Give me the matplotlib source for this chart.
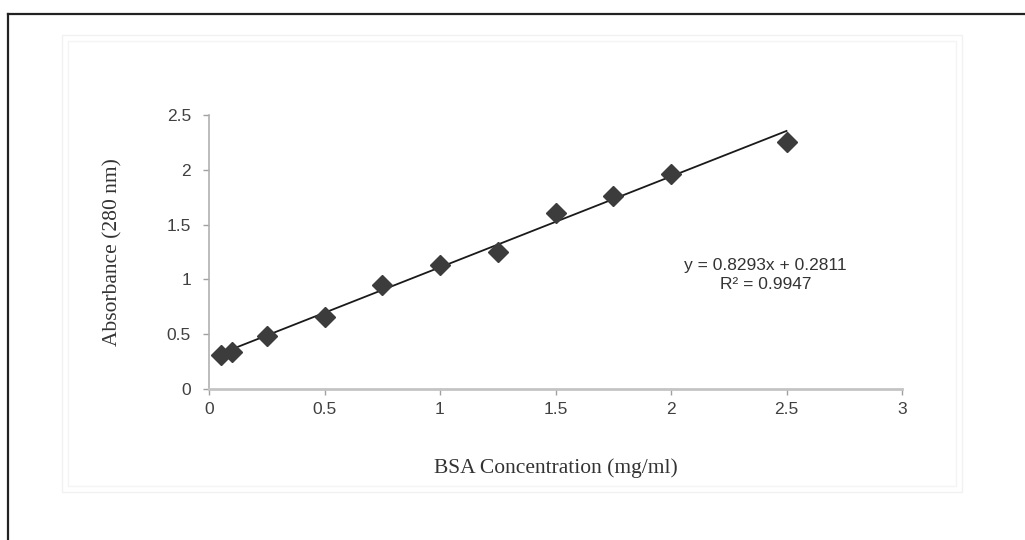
import matplotlib
matplotlib.use("Agg")
import matplotlib.pyplot as plt
from matplotlib.patches import Rectangle
from matplotlib.lines import Line2D
import numpy as np

# BSA standard curve
concentration = [0.05, 0.1, 0.25, 0.5, 0.75, 1.0, 1.25, 1.5, 1.75, 2.0, 2.5]
absorbance = [0.31, 0.34, 0.48, 0.66, 0.95, 1.13, 1.25, 1.61, 1.76, 1.96, 2.25]
slope, intercept = 0.8293, 0.2811
r_squared = 0.9947
x_ticks = [0, 0.5, 1, 1.5, 2, 2.5, 3]
y_ticks = [0, 0.5, 1, 1.5, 2, 2.5]

fig = plt.figure(figsize=(10.25, 5.4), dpi=100)
fig.patch.set_facecolor("white")

# outer frame (top and left edges)
fig.add_artist(Line2D([8 / 1025, 1.0], [1 - 14 / 540, 1 - 14 / 540],
                      transform=fig.transFigure, color="#222222", lw=1.6))
fig.add_artist(Line2D([8 / 1025, 8 / 1025], [0.0, 1 - 14 / 540],
                      transform=fig.transFigure, color="#222222", lw=1.6))

# faint chart-area border
for inset, col in [(0, "#f1f1f1"), (6, "#f4f4f4")]:
    fig.add_artist(Rectangle(((62 + inset) / 1025, 1 - (492 - inset) / 540),
                             (900 - 2 * inset) / 1025, (457 - 2 * inset) / 540,
                             transform=fig.transFigure, fill=False,
                             edgecolor=col, lw=1.0))

ax = fig.add_axes([209 / 1025, 1 - 389 / 540, (902 - 209) / 1025, (389 - 115) / 540])
ax.set_xlim(0, 3)
ax.set_ylim(0, 2.5)

for side in ("top", "right"):
    ax.spines[side].set_visible(False)
ax.spines["left"].set_color("#b0b0b0")
ax.spines["left"].set_linewidth(1.2)
ax.spines["bottom"].set_linewidth(2.0)
ax.spines["bottom"].set_color("#c4c4c4")

ax.set_xticks(x_ticks)
ax.set_yticks(y_ticks)
ax.set_xticklabels([f"{t:g}" for t in x_ticks])
ax.set_yticklabels([f"{t:g}" for t in y_ticks])
ax.tick_params(axis="both", direction="out", length=4, width=1, color="#a0a0a0",
               labelsize=12.5, labelcolor="#404040")
ax.tick_params(axis="x", pad=5)
ax.tick_params(axis="y", pad=9)
for lab in ax.get_xticklabels() + ax.get_yticklabels():
    lab.set_fontfamily("Liberation Sans")

# linear fit line
x_fit = np.array([min(concentration), max(concentration)])
ax.plot(x_fit, slope * x_fit + intercept, color="#1a1a1a", lw=1.3, zorder=2)

# measured points
ax.plot(concentration, absorbance, linestyle="none", marker="D", markersize=10,
        color="#3c3c3c", markeredgecolor="#3c3c3c", zorder=3, clip_on=False)

ax.text(2.41, 1.04, f"y = {slope}x + {intercept}\nR² = {r_squared}",
        ha="center", va="center", fontsize=12.5, color="#333333",
        family="Liberation Sans", linespacing=1.3)

ax.set_xlabel("BSA Concentration (mg/ml)", fontsize=15.5, family="Liberation Serif",
              color="#333333", labelpad=30)
ax.set_ylabel("Absorbance (280 nm)", fontsize=15.5, family="Liberation Serif",
              color="#333333", labelpad=32)

fig.savefig("out.png", dpi=100, facecolor="white")
